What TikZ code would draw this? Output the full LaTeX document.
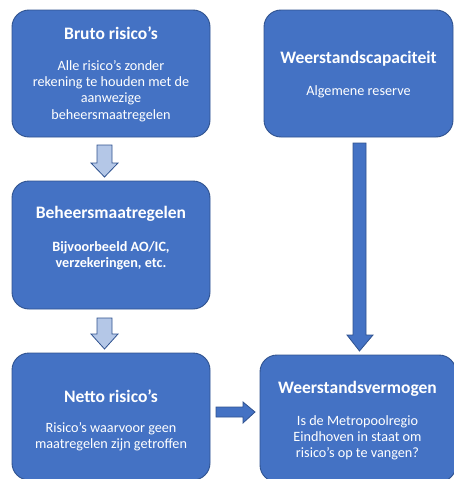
\documentclass[tikz,border=0pt]{standalone}
\usepackage{fontspec}
\setmainfont{Carlito}
\definecolor{boxblue}{HTML}{4472C4}
\definecolor{edgeblue}{HTML}{2F528F}
\definecolor{lightblue}{HTML}{B4C7E7}
\begin{document}
\begin{tikzpicture}[x=1pt,y=-1pt,
  box/.style={draw=edgeblue,line width=0.9pt,fill=boxblue,rounded corners=17pt},
  title/.style={text=white,font=\fontsize{17.5}{20}\selectfont\bfseries,inner sep=0pt,anchor=center},
  body/.style={text=white,font=\fontsize{14.2}{16.2}\selectfont,align=center,inner sep=0pt,anchor=center},
  lightarrow/.style={draw=edgeblue,line width=0.8pt,fill=lightblue,line join=miter},
  darkarrow/.style={draw=edgeblue,line width=0.8pt,fill=boxblue,line join=miter}]
\useasboundingbox (0,0) rectangle (453,479);
% boxes
\draw[box] (12,10) rectangle (210,137);
\draw[box] (264,10) rectangle (453,137);
\draw[box] (12,181) rectangle (210,309);
\draw[box] (12,353) rectangle (210,480);
\draw[box] (260,355) rectangle (456,482);
% texts
\node[title] (t1) at (111,33) {Bruto risico’s};
\node[body] (b1) at (111,91) {Alle risico’s zonder\\rekening te houden met de\\aanwezige\\beheersmaatregelen};
\node[title] (t2) at (358.5,59) {Weerstandscapaciteit};
\node[body] (b2) at (358.5,92) {Algemene reserve};
\node[title] (t3) at (111,214) {Beheersmaatregelen};
\node[body,font=\fontsize{14.2}{16.2}\selectfont\bfseries] (b3) at (111,256) {Bijvoorbeeld AO/IC,\\verzekeringen, etc.};
\node[title] (t4) at (111,396) {Netto risico’s};
\node[body] (b4) at (111,436.5) {Risico’s waarvoor geen\\maatregelen zijn getroffen};
\node[title] (t5) at (357.5,389) {Weerstandsvermogen};
\node[body] (b5) at (357.5,437.5) {Is de Metropoolregio\\Eindhoven in staat om\\risico’s op te vangen?};
% arrows
\draw[lightarrow] (97,145) -- (112,145) -- (112,163) -- (118,163) -- (104.5,177) -- (91,163) -- (97,163) -- cycle;
\draw[lightarrow] (97,318) -- (112,318) -- (112,334) -- (118,334) -- (104.5,349) -- (91,334) -- (97,334) -- cycle;
\draw[darkarrow] (353,143) -- (366,143) -- (366,335) -- (373,335) -- (359.5,351) -- (347,335) -- (353,335) -- cycle;
\draw[darkarrow] (216,407) -- (243,407) -- (243,402) -- (255,412) -- (243,423) -- (243,417) -- (216,417) -- cycle;
\end{tikzpicture}
\end{document}
